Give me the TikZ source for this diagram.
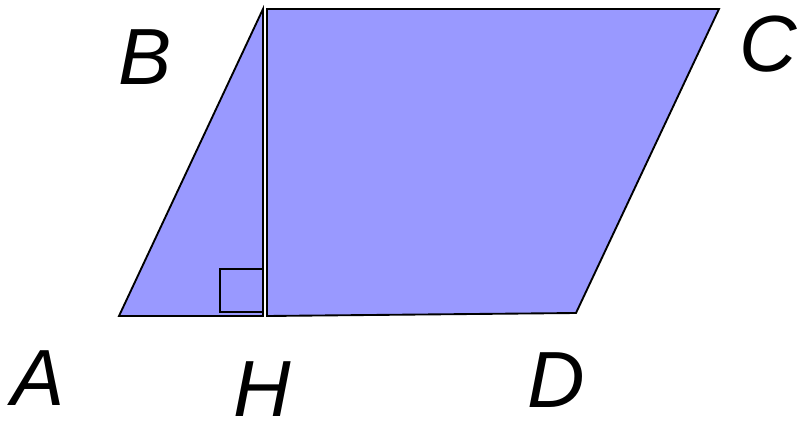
\documentclass[tikz,border=0pt]{standalone}
\usepackage{fontspec}
\setmainfont{Liberation Sans}
\usepackage{tikz}
\definecolor{facecol}{RGB}{153,153,255}
\tikzset{
  face/.style={fill=facecol,draw=black,line width=1.6pt,line join=miter},
  mark lbl/.style={font=\fontsize{68}{68}\selectfont\itshape,inner sep=0pt}
}
\begin{document}
\begin{tikzpicture}[x=0.03cm,y=-0.03cm]
  \useasboundingbox (0,0) rectangle (798,421);
  % the two pieces of the parallelogram
  \coordinate (A) at (119,316);
  \coordinate (B) at (263,9);
  \coordinate (H) at (263,316);
  \coordinate (B2) at (267,9);
  \coordinate (C) at (719,9);
  \coordinate (D) at (576,313);
  \coordinate (H2) at (267,316);
  \draw[face] (A) -- (B) -- (H) -- cycle;
  \draw[face] (B2) -- (C) -- (D) -- (H2) -- cycle;
  % right angle at H
  \draw[line width=1.6pt] (220,312) rectangle (263,269);

  \node[mark lbl] (lA) at (38,378) {A};
  \node[mark lbl] (lB) at (145,57) {B};
  \node[mark lbl] (lC) at (768,44) {C};
  \node[mark lbl] (lD) at (556,380) {D};
  \node[mark lbl] (lH) at (262,389) {H};
\end{tikzpicture}
\end{document}
